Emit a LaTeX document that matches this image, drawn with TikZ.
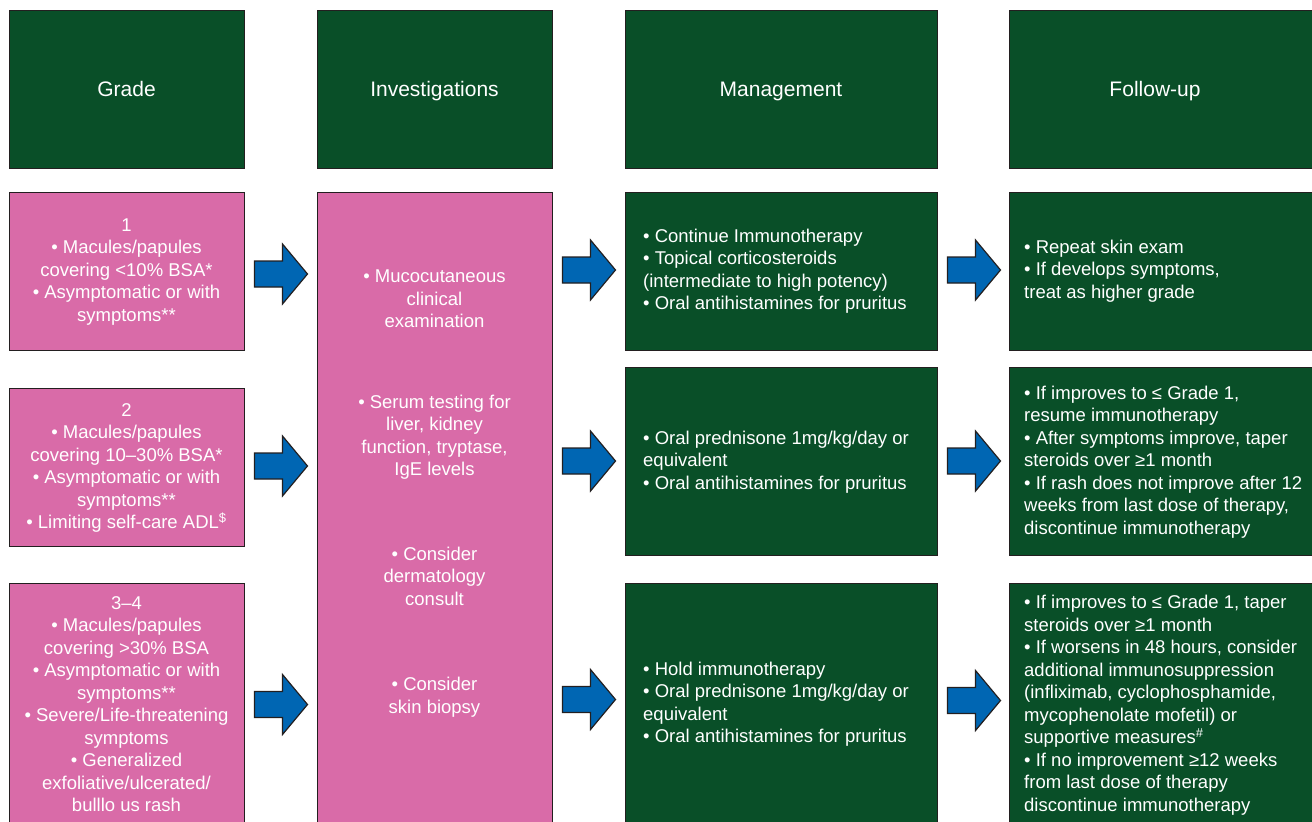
\documentclass[tikz,border=0pt]{standalone}
\usepackage{fontspec}
\setmainfont{Liberation Sans}
\usetikzlibrary{calc}
\definecolor{pinkbox}{RGB}{217,107,168}
\definecolor{greenbox}{RGB}{9,79,40}
\definecolor{arrowblue}{RGB}{0,102,179}
\definecolor{edgedark}{RGB}{35,31,32}
\begin{document}
\begin{tikzpicture}[x=1pt,y=-1pt,
  pbox/.style={draw=edgedark,line width=1pt,fill=pinkbox,rectangle,inner sep=0pt},
  gbox/.style={draw=edgedark,line width=1pt,fill=greenbox,rectangle,inner sep=0pt},
  txt/.style={text=white,inner sep=0pt,font=\fontsize{18.5}{22.5}\selectfont},
  htxt/.style={text=white,inner sep=0pt,anchor=base,font=\fontsize{21}{25}\selectfont},
  blockarrow/.style={draw=edgedark,line width=1.2pt,fill=arrowblue,line join=miter},
  barrow/.pic={\draw[blockarrow] (0,-13) -- (28,-13) -- (28,-30) -- (53,0) -- (28,30) -- (28,13) -- (0,13) -- cycle;}
]
\useasboundingbox (0,0) rectangle (1312,822);
\clip (0,0) rectangle (1312,822);
% header boxes
\node[gbox,minimum width=235pt,minimum height=158pt] (h1) at (126.5,89) {};
\node[gbox,minimum width=235pt,minimum height=158pt] (h2) at (434.5,89) {};
\node[gbox,minimum width=312pt,minimum height=158pt] (h3) at (781,89) {};
\node[gbox,minimum width=311pt,minimum height=158pt] (h4) at (1164.5,89) {};
\node[htxt] (h1t) at (126.5,96.5) {Grade};
\node[htxt] (h2t) at (434.5,96.5) {Investigations};
\node[htxt] (h3t) at (781,96.5) {Management};
\node[htxt] (h4t) at (1155,96.5) {Follow-up};
% grade boxes
\node[pbox,minimum width=235pt,minimum height=158pt] (g1) at (126.5,271) {};
\node[pbox,minimum width=235pt,minimum height=158pt] (g2) at (126.5,467) {};
\node[pbox,minimum width=235pt,minimum height=247pt] (g3) at (126.5,706.5) {};
% investigations
\node[pbox,minimum width=235pt,minimum height=638pt] (inv) at (434.5,511) {};
% management
\node[gbox,minimum width=312pt,minimum height=158pt] (m1) at (781,271) {};
\node[gbox,minimum width=312pt,minimum height=188pt] (m2) at (781,461) {};
\node[gbox,minimum width=312pt,minimum height=247pt] (m3) at (781,706.5) {};
% follow-up
\node[gbox,minimum width=311pt,minimum height=158pt] (f1) at (1164.5,271) {};
\node[gbox,minimum width=311pt,minimum height=188pt] (f2) at (1164.5,461) {};
\node[gbox,minimum width=311pt,minimum height=247pt] (f3) at (1164.5,706.5) {};
% texts
\node[txt,align=center] (g1t) at (126.5,272) {1\\• Macules/papules\\covering <10\% BSA*\\• Asymptomatic or with\\symptoms**};
\node[txt,align=center] (g2t) at (126.5,468) {2\\• Macules/papules\\covering 10–30\% BSA*\\• Asymptomatic or with\\symptoms**\\• Limiting self-care ADL\textsuperscript{\$}};
\node[txt,align=center] (g3t) at (126.5,704) {3–4\\• Macules/papules\\covering >30\% BSA\\• Asymptomatic or with\\symptoms**\\• Severe/Life-threatening\\symptoms\\• Generalized\\exfoliative/ulcerated/\\bulllo us rash};
\node[txt,align=center] (i1) at (434.5,299) {• Mucocutaneous\\clinical\\examination};
\node[txt,align=center] (i2) at (434.5,437) {• Serum testing for\\liver, kidney\\function, tryptase,\\IgE levels};
\node[txt,align=center] (i3) at (434.5,576) {• Consider\\dermatology\\consult};
\node[txt,align=center] (i4) at (434.5,697) {• Consider\\skin biopsy};
\node[txt,align=left,anchor=west] (m1t) at (643,271) {• Continue Immunotherapy\\• Topical corticosteroids\\(intermediate to high potency)\\• Oral antihistamines for pruritus};
\node[txt,align=left,anchor=west] (m2t) at (643,462) {• Oral prednisone 1mg/kg/day or\\equivalent\\• Oral antihistamines for pruritus};
\node[txt,align=left,anchor=west] (m3t) at (643,704) {• Hold immunotherapy\\• Oral prednisone 1mg/kg/day or\\equivalent\\• Oral antihistamines for pruritus};
\node[txt,align=left,anchor=west] (f1t) at (1024,271) {• Repeat skin exam\\• If develops symptoms,\\treat as higher grade};
\node[txt,align=left,anchor=west] (f2t) at (1024,462) {• If improves to ≤ Grade 1,\\resume immunotherapy\\• After symptoms improve, taper\\steroids over ≥1 month\\• If rash does not improve after 12\\weeks from last dose of therapy,\\discontinue immunotherapy};
\node[txt,align=left,anchor=west] (f3t) at (1024,705) {• If improves to ≤ Grade 1, taper\\steroids over ≥1 month\\• If worsens in 48 hours, consider\\additional immunosuppression\\(infliximab, cyclophosphamide,\\mycophenolate mofetil) or\\supportive measures\textsuperscript{\#}\\• If no improvement ≥12 weeks\\from last dose of therapy\\discontinue immunotherapy};
% block arrows
\pic at ($(g1.east)+(10,3)$) {barrow};
\pic at ($(g2.east)+(10,-1)$) {barrow};
\pic at ($(g3.east)+(10,-2)$) {barrow};
\pic at ($(inv.east |- m1.west)+(10,-1)$) {barrow};
\pic at ($(inv.east |- m2.west)+(10,0)$) {barrow};
\pic at ($(inv.east |- m3.west)+(10,-7)$) {barrow};
\pic at ($(m1.east)+(10,-1)$) {barrow};
\pic at ($(m2.east)+(10,0)$) {barrow};
\pic at ($(m3.east)+(10,-6)$) {barrow};
\end{tikzpicture}
\end{document}
